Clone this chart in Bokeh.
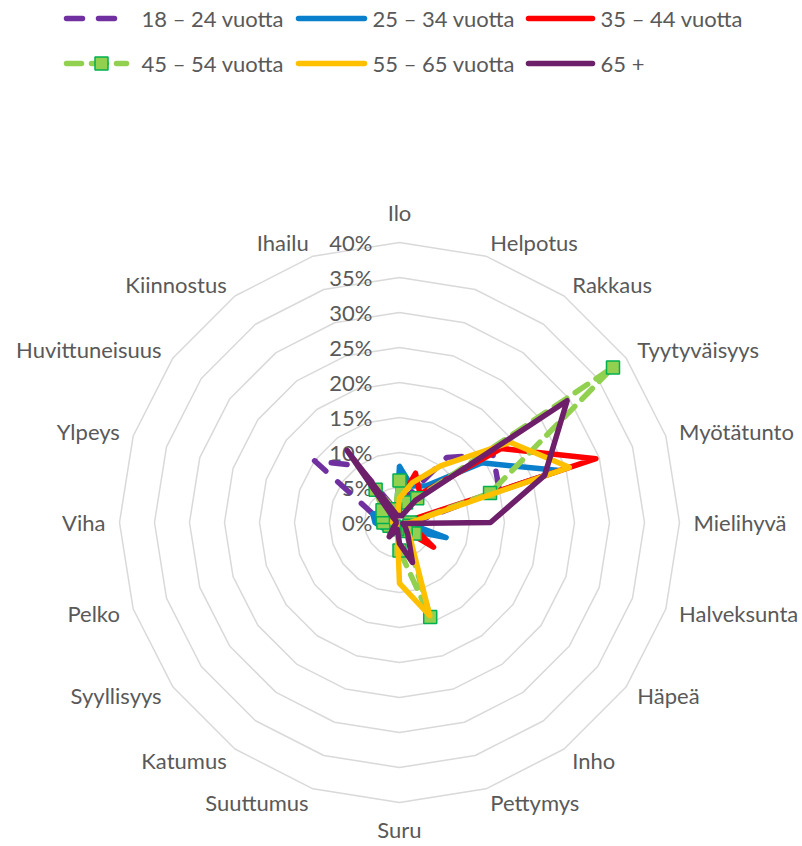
import numpy as np
from bokeh.plotting import figure
from bokeh.models import Range1d
from bokeh.core.properties import value
from bokeh.embed import file_html
from bokeh.resources import INLINE

# ---------------- data ----------------
categories = ["Ilo", "Helpotus", "Rakkaus", "Tyytyväisyys", "Myötätunto", "Mielihyvä",
              "Halveksunta", "Häpeä", "Inho", "Pettymys", "Suru", "Suuttumus", "Katumus",
              "Syyllisyys", "Pelko", "Viha", "Ylpeys", "Huvittuneisuus", "Kiinnostus", "Ihailu"]
series_names = ["18 – 24 vuotta", "25 – 34 vuotta", "35 – 44 vuotta",
                "45 – 54 vuotta", "55 – 65 vuotta", "65 +"]
age_18_24 = [3, 4, 11.5, 16.5, 15, 2, 1, 1, 1, 1, 1, 1, 1, 1.5, 2, 3, 4, 15, 10, 2]
age_25_34 = [8, 5.5, 6.5, 14.5, 24, 1, 7, 2, 1, 1.5, 1.5, 1, 1, 1, 2.5, 3.5, 4, 2, 2, 1.5]
age_35_44 = [3, 7.4, 5, 18, 29.5, 0.5, 2, 6, 1.5, 1, 1, 0.5, 0.5, 0.5, 1, 1, 1, 1, 1.5, 1]
age_45_54 = [6, 3, 4.3, 37.7, 13.6, 1.5, 1.5, 2.7, 1.5, 14.2, 4, 1, 1, 1, 1.5, 2.3, 2.5, 3, 5.8, 2]
age_55_65 = [3.5, 6, 10, 19.5, 25.5, 1.5, 1, 1, 2.5, 14, 8.7, 1, 1, 0.5, 0.5, 1, 1, 1, 1, 1]
age_65_plus = [1, 1, 3.9, 29.6, 21.8, 13, 0.5, 1, 2, 6, 3, 1, 2.5, 1, 0.5, 0.5, 0.5, 1, 12.7, 1]
ring_values = [0, 5, 10, 15, 20, 25, 30, 35, 40]
ring_labels = ["0%", "5%", "10%", "15%", "20%", "25%", "30%", "35%", "40%"]

# ---------------- layout / style ----------------
W, H = 800, 844
PX = 7.0                  # pixels per percent
CX, CY = 399, 522         # chart centre in page pixels
FONT = "Lato"
FS = "22px"
TXT = "#595959"

def fx(px):
    return (px - CX) / PX

def fy(py):
    return (CY - py) / PX

p = figure(width=W, height=H, output_backend="svg", toolbar_location=None,
           x_range=Range1d(fx(0), fx(W)), y_range=Range1d(fy(H), fy(0)),
           min_border=0, outline_line_color=None)
p.axis.visible = False
p.grid.visible = False
p.background_fill_color = "white"

n = len(categories)
ang = np.arange(n) * 2 * np.pi / n   # clockwise from top

def polar(vals):
    v = np.asarray(vals, dtype=float)
    x = v * np.sin(ang)
    y = v * np.cos(ang)
    return list(np.append(x, x[0])), list(np.append(y, y[0]))

# rings
rx, ry = [], []
for r in ring_values[1:]:
    x, y = polar([r] * n)
    rx.append(x)
    ry.append(y)
p.multi_line(rx, ry, line_color="#d9d9d9", line_width=1.5)

# ring labels
p.text(x=[fx(372)] * len(ring_values), y=ring_values, text=ring_labels,
       text_align="right", text_baseline="middle", text_font=value(FONT),
       text_font_size=FS, text_color=TXT)

# category labels
R_LAB = 294 / PX
lx, ly, la = [], [], []
for i, c in enumerate(categories):
    a = ang[i]
    x = R_LAB * np.sin(a)
    y = R_LAB * np.cos(a)
    deg = np.degrees(a)
    if abs(deg) < 1e-6:
        al = "center"; y += 16 / PX
    elif abs(deg - 180) < 1e-6:
        al = "center"; y -= 13 / PX
    elif deg < 180:
        al = "left"
    else:
        al = "right"
    lx.append(x); ly.append(y); la.append(al)
for al in ("left", "right", "center"):
    idx = [i for i in range(n) if la[i] == al]
    p.text(x=[lx[i] for i in idx], y=[ly[i] for i in idx], text=[categories[i] for i in idx],
           text_align=al, text_baseline="middle", text_font=value(FONT),
           text_font_size=FS, text_color=TXT)

styles = [
    dict(color="#7030A0", dash="16 16"),
    dict(color="#0A80CC", dash="solid"),
    dict(color="#FF0000", dash="solid"),
    dict(color="#92D050", dash="15 10"),
    dict(color="#FFC000", dash="solid"),
    dict(color="#6E1F6A", dash="solid"),
]
data = [age_18_24, age_25_34, age_35_44, age_45_54, age_55_65, age_65_plus]
LW = 5.5

for k, (vals, st) in enumerate(zip(data, styles)):
    x, y = polar(vals)
    p.line(x, y, line_color=st["color"], line_width=LW, line_dash=st["dash"],
           line_join="round", line_cap="round")
    if k == 3:
        p.scatter(x[:-1], y[:-1], marker="square", size=13, fill_color="#92D050",
                  line_color="#00B050", line_width=1.5)

# legend (manual, two rows of three)
leg_rows = [18, 63]
leg_samples = [(64, 128), (296, 366), (526, 594)]
leg_text_x = [141, 372, 600]
for k, (name, st) in enumerate(zip(series_names, styles)):
    row, col = divmod(k, 3)
    x0, x1 = leg_samples[col]
    yy = fy(leg_rows[row])
    p.line([fx(x0 + 2), fx(x1 - 2)], [yy, yy], line_color=st["color"], line_width=LW,
           line_dash=st["dash"], line_cap="round")
    if k == 3:
        p.scatter([fx((x0 + x1) / 2 + 5)], [yy], marker="square", size=13,
                  fill_color="#92D050", line_color="#00B050", line_width=1.5)
    p.text(x=[fx(leg_text_x[col])], y=[yy], text=[name], text_align="left",
           text_baseline="middle", text_font=value(FONT), text_font_size=FS, text_color=TXT)

open("out.html", "w").write(file_html(p, INLINE))
